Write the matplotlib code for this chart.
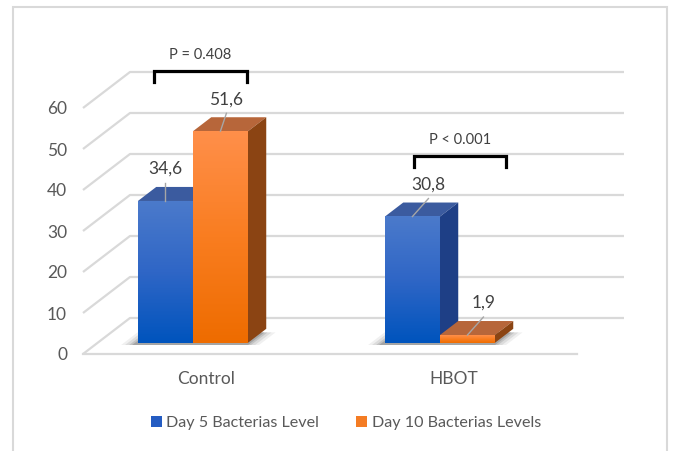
import numpy as np
import matplotlib.pyplot as plt
from matplotlib.patches import Polygon, Rectangle, Patch
from matplotlib.colors import LinearSegmentedColormap

plt.rcParams['font.family'] = ['Lato', 'DejaVu Sans']

# data
groups = ['Control', 'HBOT']
day5 = [34.6, 30.8]
day10 = [51.6, 1.9]
series_names = ['Day 5 Bacterias Level', 'Day 10 Bacterias Levels']
p_texts = ['P = 0.408', 'P < 0.001']
y_ticks = [0, 10, 20, 30, 40, 50, 60]

W, H = 673, 451
fig = plt.figure(figsize=(W / 100, H / 100), dpi=100)
ax = fig.add_axes([83 / W, 97 / H, 494 / W, 246 / H])

PX = 494 / 2.0   # pixels per category unit
PY = 246 / 60.0  # pixels per value unit
DX = 47 / PX     # depth offset of the floor
DY = 36 / PY


def proj(x, v, d):
    # oblique projection: d = 0 front, d = 1 back wall
    return x + d * DX, v + d * DY


grid_c = '#d9d9d9'
for t in y_ticks:
    a = proj(-0.5, t, 0)
    b = proj(-0.5, t, 1)
    c = proj(1.5, t, 1)
    ax.plot([a[0], b[0], c[0]], [a[1], b[1], c[1]], color=grid_c, lw=1.6,
            clip_on=False, zorder=0.5, solid_capstyle='butt')
ax.plot([-0.5, 1.5], [0, 0], color=grid_c, lw=1.6, clip_on=False, zorder=0.5)

bw = 55 / PX
off = -0.114
d0, d1 = 0.31, 0.70

blue_grad = LinearSegmentedColormap.from_list('b', ['#0054bd', '#2f66c6', '#4b7acb'])
orange_grad = LinearSegmentedColormap.from_list('o', ['#ee6c00', '#f97d20', '#ff8f4a'])
styles = [
    dict(cmap=blue_grad, side='#1e3f86', top='#3b5b9f'),
    dict(cmap=orange_grad, side='#8b4413', top='#b7663a'),
]


def bar3d(x0, v, st, z):
    x1 = x0 + bw
    top = [proj(x0, v, d0), proj(x1, v, d0), proj(x1, v, d1), proj(x0, v, d1)]
    ax.add_patch(Polygon(top, closed=True, fc=st['top'], ec='none', zorder=z, clip_on=False))
    side = [proj(x1, 0, d0), proj(x1, v, d0), proj(x1, v, d1), proj(x1, 0, d1)]
    ax.add_patch(Polygon(side, closed=True, fc=st['side'], ec='none', zorder=z + 0.1, clip_on=False))
    fx0, fy0 = proj(x0, 0, d0)
    fx1, fy1 = proj(x1, v, d0)
    grad = np.linspace(0, 1, 100).reshape(-1, 1)
    ax.imshow(grad, extent=[fx0, fx1, fy0, fy1], cmap=st['cmap'], aspect='auto',
              origin='lower', zorder=z + 0.2, interpolation='bilinear')


lab_dx = [[0, 6 / PX], [16 / PX, 16 / PX]]
br_shift = [-0.024, 0.026]

for i, g in enumerate(groups):
    vals = [day5[i], day10[i]]
    xl = i + off - bw
    xr = i + off + bw
    # soft shadow on the floor
    for e, a in [(14, 0.07), (10, 0.10), (6, 0.14), (3, 0.2)]:
        ex = e / PX
        sh = [proj(xl - ex, 0, d0 - 0.06), proj(xr + ex, 0, d0 - 0.06),
              proj(xr + ex, 0, d1 - 0.1), proj(xl - ex, 0, d1 - 0.1)]
        ax.add_patch(Polygon(sh, closed=True, fc='#303030', ec='none', alpha=a,
                             zorder=1 + i * 5, clip_on=False))
    for s in range(2):
        x0 = xl + s * bw
        bar3d(x0, vals[s], styles[s], 2 + i * 5 + s * 2)
        cx, cy = proj(x0 + bw / 2, vals[s], d0)
        ex, ey = cx + lab_dx[i][s], cy + 18 / PY
        ax.plot([cx, ex], [cy, ey], color='#a6a6a6', lw=1, zorder=20, clip_on=False)
        ax.text(ex, ey + 3.4, f'{vals[s]:.1f}'.replace('.', ','), ha='center', va='center',
                fontsize=12.5, color='#404040', zorder=21, clip_on=False)
    # significance bracket
    top = max(vals) + 17.5
    bc = i + br_shift[i]
    hw = 0.187
    ax.plot([bc - hw, bc - hw, bc + hw, bc + hw], [top - 2.8, top, top, top - 2.8],
            color='black', lw=2.3, clip_on=False, zorder=22, solid_joinstyle='miter')
    ax.text(bc, top + 3.8, p_texts[i], ha='center', va='center', fontsize=10.5,
            color='#404040', clip_on=False, zorder=22)

ax.set_xlim(-0.5, 1.5)
ax.set_ylim(0, 60)
ax.set_yticks(y_ticks)
ax.set_xticks(range(len(groups)))
ax.set_xticklabels(groups)
ax.tick_params(axis='y', length=0, pad=11.5, labelsize=12.5, labelcolor='#595959')
ax.tick_params(axis='x', length=0, pad=12.5, labelsize=12.5, labelcolor='#595959')
for sp in ax.spines.values():
    sp.set_visible(False)
ax.patch.set_alpha(0)

handles = [Patch(fc='#245cc2'), Patch(fc='#f47c24')]
fig.legend(handles, series_names, loc='center', bbox_to_anchor=(346 / W, 1 - 423 / H),
           ncol=2, frameon=False, handlelength=0.65, handleheight=0.65,
           handletextpad=0.3, columnspacing=2.3, fontsize=11.6, labelcolor='#595959')

fig.add_artist(Rectangle((13 / W, -4 / H), 654 / W, 448 / H, transform=fig.transFigure,
                         fill=False, ec='#d9d9d9', lw=1.5))

fig.savefig('out.png', dpi=100)
